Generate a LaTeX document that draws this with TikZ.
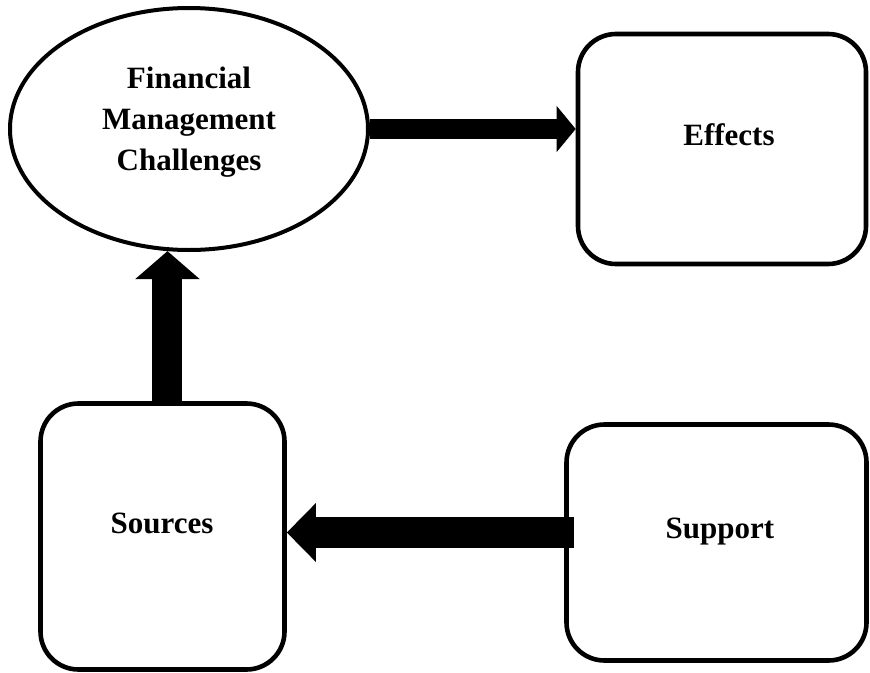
\documentclass[tikz,border=0pt]{standalone}
\usepackage{fontspec}
\setmainfont{Liberation Serif}
\usetikzlibrary{arrows.meta,shapes.geometric}
\begin{document}
\begin{tikzpicture}[x=1pt,y=-1pt,
  boxnode/.style={draw,line width=4.6pt,rectangle,rounded corners=38pt,inner sep=0pt},
  lbl/.style={font=\fontsize{31}{41}\selectfont\bfseries,align=center,inner sep=0pt},
  arrA/.style={line width=20pt,-{Triangle[width=45pt,length=19pt]}},
  arrB/.style={line width=30pt,-{Triangle[width=63pt,length=28pt]}},
  arrC/.style={line width=31pt,-{Triangle[width=57pt,length=29pt]}}]
\useasboundingbox (0,0) rectangle (870,672);
\node[draw,ellipse,line width=4pt,minimum width=358pt,minimum height=242pt,inner sep=0pt] (ell) at (189,129) {};
\node[lbl] (elltxt) at (189,122) {Financial\\Management\\Challenges};
\node[boxnode,minimum width=288pt,minimum height=230pt] (eff) at (722,149) {};
\node[lbl,anchor=base] (efftxt) at (729,145) {Effects};
\node[boxnode,minimum width=244pt,minimum height=266pt] (src) at (162.5,536.5) {};
\node[lbl,anchor=base] (srctxt) at (162,533) {Sources};
\node[boxnode,minimum width=300pt,minimum height=236pt] (sup) at (716.5,542.5) {};
\node[lbl,anchor=base] (suptxt) at (720,538) {Support};
\draw[arrA] (ell.east) -- (ell.east -| eff.west);
\draw[arrB] (ell.260 |- src.north) -- (ell.260);
\coordinate (supin) at ([xshift=10pt,yshift=10pt]sup.west);
\draw[arrC] (supin) -- (supin -| src.east);
\end{tikzpicture}
\end{document}
